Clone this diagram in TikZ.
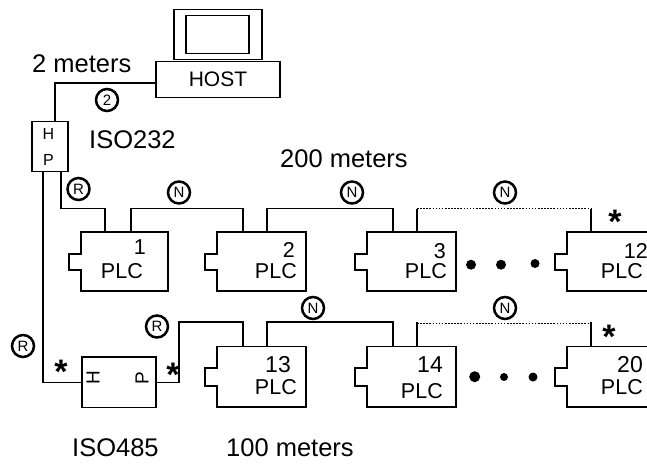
\documentclass[tikz,border=0pt]{standalone}
\usepackage{fontspec}
\setmainfont{Liberation Sans}
\newcommand{\fs}[1]{\fontsize{#1}{#1}\selectfont}
\tikzset{
  x=1pt,y=-1pt,
  wire/.style={line width=1.5pt,line join=miter,line cap=butt},
  dotwire/.style={line width=1.7pt,dash pattern=on 1.6pt off 1.5pt},
  box/.style={draw,line width=1.5pt,inner sep=0pt,anchor=north west},
  plcshape/.style={inner sep=0pt,anchor=north west},
  big/.style={inner sep=0pt,font=\fs{25.5}},
  mid/.style={inner sep=0pt,font=\fs{21.5}},
  small/.style={inner sep=0pt,font=\fs{16}},
  tag/.style={circle,draw,line width=2.5pt,minimum size=22pt,inner sep=0pt,font=\fs{15}},
  star/.style={inner sep=0pt,anchor=base,font=\fs{34}\bfseries},
  bullet/.style={circle,fill=black,inner sep=0pt,minimum size=#1},
}
% name, x, y, w, h, notch top, notch height
\newcommand{\plcunit}[7]{%
  \node[plcshape,minimum width=#4pt,minimum height=#5pt] (#1) at (#2,#3) {};
  \draw[wire] (#1.north west) -- ++(0,#6) -- ++(-12,0) -- ++(0,#7) -- ++(12,0)
    -- (#1.south west) -- (#1.south east) -- (#1.north east) -- cycle;
}
\begin{document}
\begin{tikzpicture}
\useasboundingbox (0,0) rectangle (647,464);
\clip (0,0) rectangle (647,464);
% host
\node[box,minimum width=88pt,minimum height=50pt] (mon) at (173,8.5) {};
\node[box,minimum width=63pt,minimum height=38pt] (scr) at (185,14.5) {};
\node[box,minimum width=124pt,minimum height=36pt] (host) at (155,60.5) {};
\node[mid,anchor=base,font=\fs{21}] (hosttxt) at (218,86.5) {HOST};
% upper converter
\node[box,minimum width=36pt,minimum height=50pt] (hp) at (31,120.5) {};
\node[small] (hpH) at (48.5,134) {H};
\node[small] (hpP) at (48.5,160) {P};
% lower converter
\node[box,minimum width=74pt,minimum height=50.5pt] (conv) at (81,356) {};
\node[small,rotate=90,font=\fs{19}] (convH) at (93,378) {H};
\node[small,rotate=90,font=\fs{19}] (convP) at (142,378) {P};
% PLC top row
\plcunit{p1}{81}{232}{86.5}{58.5}{22}{16}
\plcunit{p2}{217}{232}{88.5}{58.5}{22}{16}
\plcunit{p3}{367}{232}{88.5}{58.5}{22}{16}
\plcunit{p12}{567}{232}{95}{58.5}{22}{16}
% PLC bottom row
\plcunit{p13}{217}{346.5}{88.5}{60}{21.5}{18}
\plcunit{p14}{367}{346.5}{88.5}{60}{21.5}{18}
\plcunit{p20}{567}{346.5}{95}{60}{21.5}{18}
% PLC texts
\node[mid,anchor=base east] (n1) at (146,254) {1};
\node[mid,anchor=base east] (l1) at (143,278) {PLC};
\node[mid,anchor=base east] (n2) at (295,257) {2};
\node[mid,anchor=base east] (l2) at (297,278) {PLC};
\node[mid,anchor=base east] (n3) at (446,258) {3};
\node[mid,anchor=base east] (l3) at (447,278) {PLC};
\node[mid,anchor=base east] (n12) at (648,258) {12};
\node[mid,anchor=base east] (l12) at (643,278) {PLC};
\node[mid,anchor=base east,font=\fs{23}] (n13) at (291,372) {13};
\node[mid,anchor=base east] (l13) at (297,394) {PLC};
\node[mid,anchor=base east,font=\fs{23}] (n14) at (443,372) {14};
\node[mid,anchor=base east] (l14) at (443,398) {PLC};
\node[mid,anchor=base east,font=\fs{23}] (n20) at (643,372) {20};
\node[mid,anchor=base east] (l20) at (643,394) {PLC};
% connectors
\coordinate (hostport) at ([yshift=-3.5pt]host.west);
\coordinate (hptop) at ([xshift=24pt]hp.north west);
\draw[wire] (hostport) -| (hptop);
\draw[wire] ([xshift=30pt]hp.south west) |- (87,208.5) -| ([xshift=24pt]p1.north west);
\draw[wire] ([xshift=50pt]p1.north west) |- (190,208.5) -| ([xshift=26pt]p2.north west);
\draw[wire] ([xshift=50pt]p2.north west) |- (340,208.5) -| ([xshift=26pt]p3.north west);
\draw[wire] ([xshift=50pt]p3.north west) -- ++(0,-23.5) coordinate (d1a);
\draw[wire] ([xshift=24pt]p12.north west) -- ++(0,-23.5) coordinate (d1b);
\draw[dotwire] (d1a) -- (d1b);
\draw[wire] ([xshift=12pt]hp.south west) |- ([yshift=-.5pt]conv.west);
\draw[wire] ([yshift=-.5pt]conv.east) -| (179,322) -| ([xshift=26pt]p13.north west);
\draw[wire] ([xshift=50pt]p13.north west) |- (330,322) -| ([xshift=26pt]p14.north west);
\draw[wire] ([xshift=50pt]p14.north west) -- ++(0,-24.5) coordinate (d2a);
\draw[wire] ([xshift=24pt]p20.north west) -- ++(0,-24.5) coordinate (d2b);
\draw[dotwire] ([yshift=-1.5pt]d2a) -- ([yshift=-1.5pt]d2b);
% tags
\node[tag] (t2) at (107,100) {2};
\node[tag] (tr1) at (78.5,189) {R};
\node[tag] (tn1) at (179,192.5) {N};
\node[tag] (tn2) at (352,192.5) {N};
\node[tag] (tn3) at (505,192.5) {N};
\node[tag] (tr2) at (157,326.5) {R};
\node[tag] (tr3) at (23,346) {R};
\node[tag] (tn4) at (313,308) {N};
\node[tag] (tn5) at (505,308) {N};
% stars
\node[star] (s1) at (615,233) {*};
\node[star] (s2) at (61,383) {*};
\node[star] (s3) at (173,386) {*};
\node[star] (s4) at (609,348) {*};
% dots
\node[bullet=10pt] (b1) at (471,264.7) {};
\node[bullet=10pt] (b2) at (501,264.7) {};
\node[bullet=9pt] (b3) at (535,263.5) {};
\node[bullet=11pt] (b4) at (474.7,376.7) {};
\node[bullet=8pt] (b5) at (504,377) {};
\node[bullet=9pt] (b6) at (533,377) {};
% captions
\node[big,anchor=base west] (c1) at (32,72) {2 meters};
\node[big,anchor=base west] (c2) at (89,148) {ISO232};
\node[big,anchor=base west] (c3) at (280,167) {200 meters};
\node[big,anchor=base west] (c4) at (72,456) {ISO485};
\node[big,anchor=base west] (c5) at (226,456) {100 meters};
\end{tikzpicture}
\end{document}
